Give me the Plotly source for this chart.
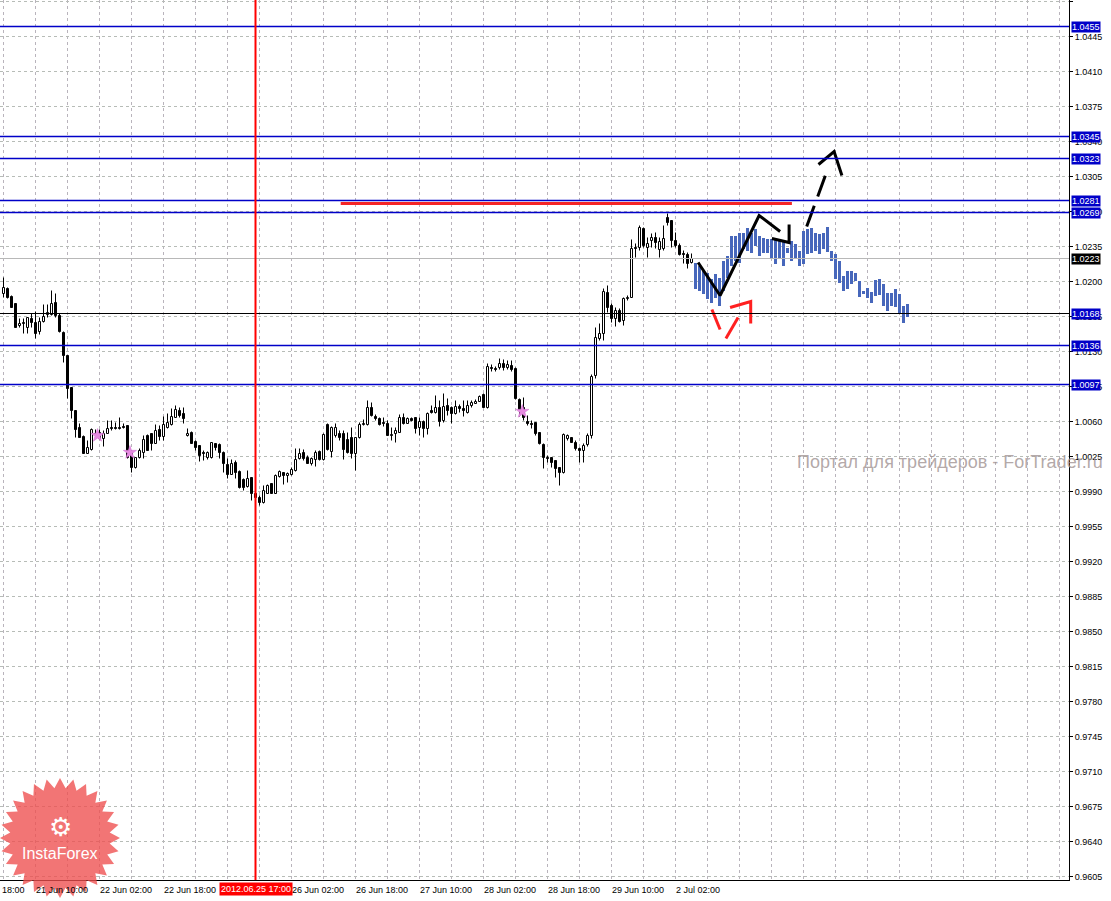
import math
import plotly.graph_objects as go

# ---------------- data ----------------
# hourly candles, bar index 0 .. 172 (bar 8 = 21 Jun 10:00, bar 63 = 25 Jun 17:00)
opens = [1.0188, 1.0193, 1.0185, 1.0178, 1.0156, 1.0158, 1.0154, 1.0163, 1.0159, 1.0150,
         1.0160, 1.0167, 1.0167, 1.0179, 1.0166, 1.0149, 1.0126, 1.0094, 1.0071, 1.0054,
         1.0045, 1.0028, 1.0032, 1.0048, 1.0049, 1.0043, 1.0048, 1.0054, 1.0054, 1.0054,
         1.0055, 1.0056, 1.0029, 1.0014, 1.0024, 1.0029, 1.0046, 1.0048, 1.0038, 1.0052,
         1.0045, 1.0054, 1.0057, 1.0064, 1.0071, 1.0068, 1.0046, 1.0049, 1.0040, 1.0036,
         1.0029, 1.0024, 1.0024, 1.0038, 1.0037, 1.0029, 1.0017, 1.0007, 1.0019, 1.0010,
         1.0002, 0.9995, 1.0004, 0.9988, 0.9984, 0.9979, 0.9988, 0.9998, 0.9988, 1.0005,
         1.0009, 1.0006, 1.0007, 1.0011, 1.0023, 1.0029, 1.0024, 1.0018, 1.0022, 1.0030,
         1.0022, 1.0057, 1.0030, 1.0046, 1.0048, 1.0048, 1.0042, 1.0044, 1.0028, 1.0044,
         1.0057, 1.0057, 1.0074, 1.0065, 1.0063, 1.0059, 1.0058, 1.0046, 1.0048, 1.0049,
         1.0064, 1.0058, 1.0063, 1.0064, 1.0054, 1.0060, 1.0053, 1.0071, 1.0069, 1.0074,
         1.0061, 1.0076, 1.0074, 1.0068, 1.0075, 1.0073, 1.0069, 1.0076, 1.0078, 1.0080,
         1.0087, 1.0074, 1.0114, 1.0113, 1.0114, 1.0118, 1.0114, 1.0116, 1.0113, 1.0082,
         1.0074, 1.0060, 1.0058, 1.0059, 1.0049, 1.0037, 1.0024, 1.0024, 1.0021, 1.0014,
         1.0009, 1.0043, 1.0044, 1.0039, 1.0033, 1.0031, 1.0037, 1.0046, 1.0106, 1.0143,
         1.0148, 1.0189, 1.0176, 1.0163, 1.0171, 1.0161, 1.0183, 1.0184, 1.0234, 1.0234,
         1.0253, 1.0234, 1.0241, 1.0244, 1.0232, 1.0233, 1.0264, 1.0261, 1.0241, 1.0236,
         1.0228, 1.0227, 1.0219]
highs = [1.0204, 1.0194, 1.0186, 1.0178, 1.0163, 1.0163, 1.0164, 1.0168, 1.0170, 1.0164,
         1.0177, 1.0177, 1.0191, 1.0188, 1.0168, 1.0150, 1.0126, 1.0094, 1.0071, 1.0058,
         1.0046, 1.0041, 1.0053, 1.0052, 1.0052, 1.0051, 1.0061, 1.0061, 1.0059, 1.0064,
         1.0058, 1.0056, 1.0031, 1.0024, 1.0033, 1.0046, 1.0047, 1.0048, 1.0057, 1.0056,
         1.0065, 1.0068, 1.0073, 1.0076, 1.0074, 1.0074, 1.0053, 1.0050, 1.0041, 1.0036,
         1.0031, 1.0030, 1.0039, 1.0038, 1.0038, 1.0030, 1.0023, 1.0022, 1.0021, 1.0011,
         1.0003, 1.0011, 1.0004, 0.9989, 0.9986, 0.9996, 0.9997, 0.9998, 1.0007, 1.0011,
         1.0009, 1.0009, 1.0014, 1.0033, 1.0033, 1.0032, 1.0026, 1.0024, 1.0031, 1.0031,
         1.0048, 1.0058, 1.0055, 1.0058, 1.0051, 1.0051, 1.0049, 1.0054, 1.0044, 1.0059,
         1.0062, 1.0081, 1.0079, 1.0067, 1.0064, 1.0064, 1.0061, 1.0054, 1.0054, 1.0067,
         1.0068, 1.0064, 1.0064, 1.0064, 1.0064, 1.0061, 1.0069, 1.0076, 1.0086, 1.0081,
         1.0088, 1.0083, 1.0075, 1.0081, 1.0077, 1.0081, 1.0081, 1.0081, 1.0082, 1.0086,
         1.0088, 1.0118, 1.0117, 1.0115, 1.0123, 1.0122, 1.0121, 1.0121, 1.0114, 1.0083,
         1.0084, 1.0066, 1.0061, 1.0059, 1.0049, 1.0038, 1.0026, 1.0024, 1.0021, 1.0014,
         1.0048, 1.0047, 1.0044, 1.0041, 1.0034, 1.0038, 1.0048, 1.0107, 1.0154, 1.0158,
         1.0193, 1.0196, 1.0178, 1.0174, 1.0173, 1.0184, 1.0186, 1.0242, 1.0238, 1.0256,
         1.0254, 1.0244, 1.0248, 1.0249, 1.0244, 1.0256, 1.0268, 1.0261, 1.0249, 1.0238,
         1.0231, 1.0229, 1.0228]
lows = [1.0184, 1.0183, 1.0174, 1.0154, 1.0154, 1.0148, 1.0148, 1.0154, 1.0143, 1.0147,
        1.0159, 1.0164, 1.0166, 1.0164, 1.0149, 1.0119, 1.0083, 1.0063, 1.0044, 1.0044,
        1.0028, 1.0028, 1.0031, 1.0044, 1.0042, 1.0035, 1.0048, 1.0051, 1.0052, 1.0052,
        1.0053, 1.0023, 1.0009, 1.0013, 1.0023, 1.0023, 1.0031, 1.0031, 1.0038, 1.0041,
        1.0041, 1.0053, 1.0056, 1.0064, 1.0064, 1.0058, 1.0045, 1.0038, 1.0031, 1.0020,
        1.0021, 1.0022, 1.0023, 1.0031, 1.0023, 1.0009, 1.0003, 1.0007, 1.0003, 0.9993,
        0.9991, 0.9994, 0.9981, 0.9981, 0.9976, 0.9978, 0.9988, 0.9988, 0.9988, 1.0004,
        0.9997, 0.9999, 1.0006, 1.0010, 1.0022, 1.0021, 1.0018, 1.0016, 1.0015, 1.0021,
        1.0021, 1.0031, 1.0024, 1.0044, 1.0041, 1.0022, 1.0028, 1.0023, 1.0011, 1.0043,
        1.0056, 1.0056, 1.0065, 1.0061, 1.0056, 1.0055, 1.0046, 1.0041, 1.0039, 1.0049,
        1.0057, 1.0058, 1.0060, 1.0048, 1.0046, 1.0044, 1.0047, 1.0068, 1.0068, 1.0055,
        1.0059, 1.0066, 1.0058, 1.0067, 1.0069, 1.0065, 1.0068, 1.0074, 1.0078, 1.0080,
        1.0074, 1.0073, 1.0110, 1.0110, 1.0112, 1.0111, 1.0112, 1.0110, 1.0082, 1.0065,
        1.0061, 1.0056, 1.0053, 1.0046, 1.0037, 1.0013, 1.0019, 1.0014, 1.0004, 0.9996,
        1.0008, 1.0041, 1.0039, 1.0031, 1.0019, 1.0019, 1.0035, 1.0043, 1.0103, 1.0141,
        1.0141, 1.0169, 1.0159, 1.0155, 1.0159, 1.0156, 1.0181, 1.0184, 1.0224, 1.0231,
        1.0234, 1.0224, 1.0234, 1.0233, 1.0224, 1.0231, 1.0256, 1.0234, 1.0234, 1.0226,
        1.0218, 1.0213, 1.0218]
closes = [1.0194, 1.0184, 1.0174, 1.0154, 1.0158, 1.0159, 1.0164, 1.0159, 1.0148, 1.0160,
          1.0165, 1.0169, 1.0178, 1.0166, 1.0150, 1.0126, 1.0093, 1.0071, 1.0052, 1.0044,
          1.0028, 1.0034, 1.0052, 1.0047, 1.0043, 1.0048, 1.0053, 1.0053, 1.0053, 1.0053,
          1.0054, 1.0024, 1.0014, 1.0024, 1.0031, 1.0042, 1.0031, 1.0038, 1.0051, 1.0045,
          1.0057, 1.0059, 1.0065, 1.0072, 1.0066, 1.0063, 1.0048, 1.0038, 1.0034, 1.0026,
          1.0028, 1.0029, 1.0039, 1.0034, 1.0029, 1.0018, 1.0007, 1.0018, 1.0009, 0.9994,
          0.9994, 1.0003, 0.9988, 0.9984, 0.9979, 0.9991, 0.9996, 0.9988, 1.0006, 1.0010,
          1.0006, 1.0008, 1.0012, 1.0022, 1.0028, 1.0023, 1.0018, 1.0023, 1.0029, 1.0022,
          1.0047, 1.0032, 1.0054, 1.0054, 1.0044, 1.0032, 1.0029, 1.0028, 1.0044, 1.0057,
          1.0058, 1.0074, 1.0066, 1.0063, 1.0057, 1.0058, 1.0046, 1.0047, 1.0051, 1.0064,
          1.0058, 1.0063, 1.0061, 1.0053, 1.0060, 1.0053, 1.0068, 1.0069, 1.0074, 1.0060,
          1.0075, 1.0071, 1.0068, 1.0075, 1.0073, 1.0071, 1.0076, 1.0079, 1.0080, 1.0085,
          1.0074, 1.0115, 1.0113, 1.0112, 1.0118, 1.0114, 1.0117, 1.0112, 1.0083, 1.0071,
          1.0064, 1.0058, 1.0057, 1.0048, 1.0038, 1.0024, 1.0023, 1.0019, 1.0013, 1.0009,
          1.0047, 1.0046, 1.0039, 1.0033, 1.0031, 1.0036, 1.0046, 1.0105, 1.0144, 1.0148,
          1.0190, 1.0174, 1.0163, 1.0171, 1.0160, 1.0183, 1.0184, 1.0233, 1.0233, 1.0254,
          1.0236, 1.0238, 1.0244, 1.0239, 1.0240, 1.0243, 1.0259, 1.0241, 1.0236, 1.0227,
          1.0227, 1.0218, 1.0223]
bar_index = list(range(len(opens)))

# projected (blue) bars, index 173 .. 226
proj_high = [1.0219, 1.0216, 1.0211, 1.0209, 1.0203, 1.0208, 1.0204, 1.0221, 1.0226, 1.0246,
             1.0246, 1.0249, 1.0249, 1.0254, 1.0249, 1.0253, 1.0246, 1.0244, 1.0243, 1.0243,
             1.0243, 1.0241, 1.0241, 1.0234, 1.0241, 1.0238, 1.0231, 1.0251, 1.0253, 1.0254,
             1.0249, 1.0248, 1.0249, 1.0255, 1.0231, 1.0228, 1.0221, 1.0206, 1.0211, 1.0211,
             1.0209, 1.0201, 1.0191, 1.0194, 1.0190, 1.0202, 1.0203, 1.0198, 1.0189, 1.0189,
             1.0193, 1.0188, 1.0176, 1.0178]
proj_low = [1.0193, 1.0191, 1.0188, 1.0183, 1.0179, 1.0184, 1.0176, 1.0191, 1.0204, 1.0216,
            1.0221, 1.0219, 1.0233, 1.0231, 1.0229, 1.0236, 1.0226, 1.0229, 1.0229, 1.0223,
            1.0218, 1.0224, 1.0216, 1.0229, 1.0221, 1.0224, 1.0216, 1.0218, 1.0228, 1.0229,
            1.0231, 1.0228, 1.0233, 1.0230, 1.0221, 1.0203, 1.0199, 1.0191, 1.0193, 1.0198,
            1.0201, 1.0185, 1.0188, 1.0184, 1.0179, 1.0186, 1.0187, 1.0176, 1.0171, 1.0176,
            1.0175, 1.0169, 1.0159, 1.0165]
proj_index = list(range(173, 173 + len(proj_high)))

# axis labels (the 25 Jun 10:00 label is hidden under the cursor box in the original)
tick_index = [8, 24, 40, 72, 88, 104, 120, 136, 152, 168]
tick_labels = ["21 Jun 10:00", "22 Jun 02:00", "22 Jun 18:00", "26 Jun 02:00",
               "26 Jun 18:00", "27 Jun 10:00", "28 Jun 02:00", "28 Jun 18:00", "29 Jun 10:00",
               "2 Jul 02:00"]
cursor_index = 63
cursor_label = "2012.06.25 17:00"

# horizontal levels
blue_levels = [1.0455, 1.0345, 1.0323, 1.0281, 1.0269, 1.0136, 1.0097]
black_level = 1.0168
bid_level = 1.0223

# arrow markers
star_index = [23.5, 31.6, 129.7]
star_price = [1.0046, 1.0029, 1.0070]

# hand drawings
red_res_index = [84.3, 197.1]
red_res_price = [1.0278, 1.0278]
black_path_index = [173.65, 179.15, 188.9, 194.15]
black_path_price = [1.0219, 1.0186, 1.0266, 1.0250]
black_hook_index = [192.1, 196.4, 196.4]
black_hook_price = [1.0243, 1.0239, 1.0257]
black_dash_index = [200.8, 205.75]
black_dash_price = [1.0255, 1.0309]
black_head_index = [203.75, 207.65, 209.6]
black_head_price = [1.0317, 1.0330, 1.0306]
red_seg1_index = [177.1, 179.15]
red_seg1_price = [1.0172, 1.0152]
red_seg2_index = [180.6, 183.65]
red_seg2_price = [1.0143, 1.0164]
red_seg3_index = [181.65, 186.8, 186.8]
red_seg3_price = [1.0174, 1.0180, 1.0158]

# ---------------- figure ----------------
W, H = 1111, 901
PL, PR, PT, PB = 0, 1069, 0, 880   # plot area in pixels
FONT = "Liberation Sans, Arial, sans-serif"
BLUE = "#0000c8"

fig = go.Figure()

# candle wicks (split around the body so white bodies stay white)
wx, wy = [], []
for k, o, h, l, c in zip(bar_index, opens, highs, lows, closes):
    top, bot = max(o, c), min(o, c)
    wx += [k, k, None, k, k, None]
    wy += [h, top, None, bot, l, None]
fig.add_trace(go.Scatter(x=wx, y=wy, mode="lines", line=dict(color="black", width=1),
                         connectgaps=False, showlegend=False, hoverinfo="skip"))

# candle bodies
body_base = [min(o, c) for o, c in zip(opens, closes)]
body_len = [max(abs(c - o), 0.00002) for o, c in zip(opens, closes)]
body_fill = ["white" if c >= o else "black" for o, c in zip(opens, closes)]
fig.add_trace(go.Bar(x=bar_index, y=body_len, base=body_base, width=0.5,
                     marker=dict(color=body_fill, line=dict(color="black", width=1)),
                     showlegend=False, hoverinfo="skip"))

fig.add_trace(go.Bar(
    x=proj_index, y=[h - l for h, l in zip(proj_high, proj_low)], base=proj_low,
    width=0.75, marker=dict(color="#4767bb", line=dict(width=0)),
    showlegend=False, hoverinfo="skip"))

fig.add_trace(go.Scatter(x=star_index, y=star_price, mode="markers",
                         marker=dict(symbol="star", size=10, color="#e58ae0",
                                     line=dict(color="#d070d0", width=0.5)),
                         showlegend=False, hoverinfo="skip"))


def line(xs, ys, color, width, dash="solid"):
    fig.add_trace(go.Scatter(x=xs, y=ys, mode="lines",
                             line=dict(color=color, width=width, dash=dash),
                             showlegend=False, hoverinfo="skip"))


line(red_res_index, red_res_price, "#f52525", 3)
line(black_path_index, black_path_price, "black", 3)
line(black_hook_index, black_hook_price, "black", 3)
line(black_dash_index, black_dash_price, "black", 3, "22px,10px")
line(black_head_index, black_head_price, "black", 3)
line(red_seg1_index, red_seg1_price, "#ff2020", 3)
line(red_seg2_index, red_seg2_price, "#ff2020", 3)
line(red_seg3_index, red_seg3_price, "#ff2020", 3)

shapes = []
for lv in blue_levels:
    shapes.append(dict(type="line", xref="paper", x0=0, x1=1, yref="y", y0=lv, y1=lv,
                       line=dict(color=BLUE, width=1.5)))
shapes.append(dict(type="line", xref="paper", x0=0, x1=1, yref="y", y0=black_level,
                   y1=black_level, line=dict(color="black", width=1.2)))
shapes.append(dict(type="line", xref="paper", x0=0, x1=1, yref="y", y0=bid_level,
                   y1=bid_level, line=dict(color="#b8b8b8", width=1)))
shapes.append(dict(type="line", xref="x", x0=cursor_index, x1=cursor_index, yref="paper",
                   y0=0, y1=1, line=dict(color="#ff0000", width=2)))

# InstaForex logo (decoration)
cx, cy, r_out, r_in, n_sp = 60, 838, 60, 50, 28
pts = []
for i in range(2 * n_sp):
    r = r_out if i % 2 == 0 else r_in
    a = math.pi * i / n_sp - math.pi / 2
    px = cx + r * math.cos(a)
    py = cy + r * math.sin(a)
    pts.append(((px - PL) / (PR - PL), 1 - (py - PT) / (PB - PT)))
path = "M " + " L ".join(f"{x:.5f},{y:.5f}" for x, y in pts) + " Z"
shapes.append(dict(type="path", xref="paper", yref="paper", path=path,
                   fillcolor="rgba(238,78,78,0.78)", line=dict(width=0), layer="above"))

annotations = []
for lv in blue_levels + [black_level]:
    annotations.append(dict(xref="paper", x=1, xanchor="left", xshift=2, yref="y", y=lv,
                            yanchor="middle", text=f"{lv:.4f}", showarrow=False,
                            bgcolor=BLUE, borderpad=0,
                            font=dict(family=FONT, size=9, color="white")))
annotations.append(dict(xref="paper", x=1, xanchor="left", xshift=2, yref="y", y=bid_level,
                        yanchor="middle", text=f"{bid_level:.4f}", showarrow=False,
                        bgcolor="black", borderpad=0,
                        font=dict(family=FONT, size=9, color="white")))
for ti, tl in zip(tick_index, tick_labels):
    annotations.append(dict(xref="x", x=ti, xanchor="left", xshift=-2, yref="paper", y=0,
                            yanchor="top", yshift=-3, text=tl, showarrow=False,
                            font=dict(family=FONT, size=9, color="black")))
annotations.append(dict(xref="paper", x=0, xanchor="left", yref="paper", y=0, yanchor="top",
                        yshift=-3, text="18:00", showarrow=False,
                        font=dict(family=FONT, size=9, color="black")))
annotations.append(dict(xref="x", x=cursor_index, xanchor="center", yref="paper", y=0,
                        yanchor="top", yshift=-2, text=cursor_label, showarrow=False,
                        bgcolor="red", borderpad=1,
                        font=dict(family=FONT, size=9, color="white")))
annotations.append(dict(xref="paper", x=795 / PR, xanchor="left", yref="paper",
                        y=1 - 462 / PB, yanchor="middle",
                        text="Портал для трейдеров - ForTrader.ru", showarrow=False,
                        font=dict(family=FONT, size=18, color="rgba(160,146,146,0.8)")))
annotations.append(dict(xref="paper", x=cx / PR, yref="paper", y=1 - 853 / PB,
                        xanchor="center", yanchor="middle", text="InstaForex",
                        showarrow=False, font=dict(family=FONT, size=16, color="white")))
annotations.append(dict(xref="paper", x=cx / PR, yref="paper", y=1 - 827 / PB,
                        xanchor="center", yanchor="middle", text="⚙",
                        showarrow=False, font=dict(family="DejaVu Sans", size=26, color="white")))

fig.update_layout(
    width=W, height=H,
    margin=dict(l=PL, r=W - PR, t=PT, b=H - PB, pad=0, autoexpand=False),
    paper_bgcolor="white", plot_bgcolor="white",
    shapes=shapes, annotations=annotations,
    barmode="overlay", bargap=0, showlegend=False,
    xaxis=dict(range=[-0.875, 266.375],
               tickmode="linear", tick0=8, dtick=8, showticklabels=False, ticks="",
               showgrid=True, gridcolor="#b9b4bc", griddash="3px,3px", gridwidth=1,
               zeroline=False, showline=True, linecolor="black", linewidth=1,
               fixedrange=True),
    yaxis=dict(range=[0.96015, 1.04815], side="right", tickmode="linear", tick0=0.9605,
               dtick=0.0035, tickformat=".4f", ticks="outside", ticklen=3,
               tickcolor="black", showgrid=True, gridcolor="#b7bcb7", griddash="3px,3px",
               gridwidth=1, zeroline=False, showline=True, linecolor="black", linewidth=1,
               tickfont=dict(family=FONT, size=9, color="black"), fixedrange=True),
)

fig.write_html("out.html", config={"displayModeBar": False},
               post_script="document.body.style.margin='0px';")
